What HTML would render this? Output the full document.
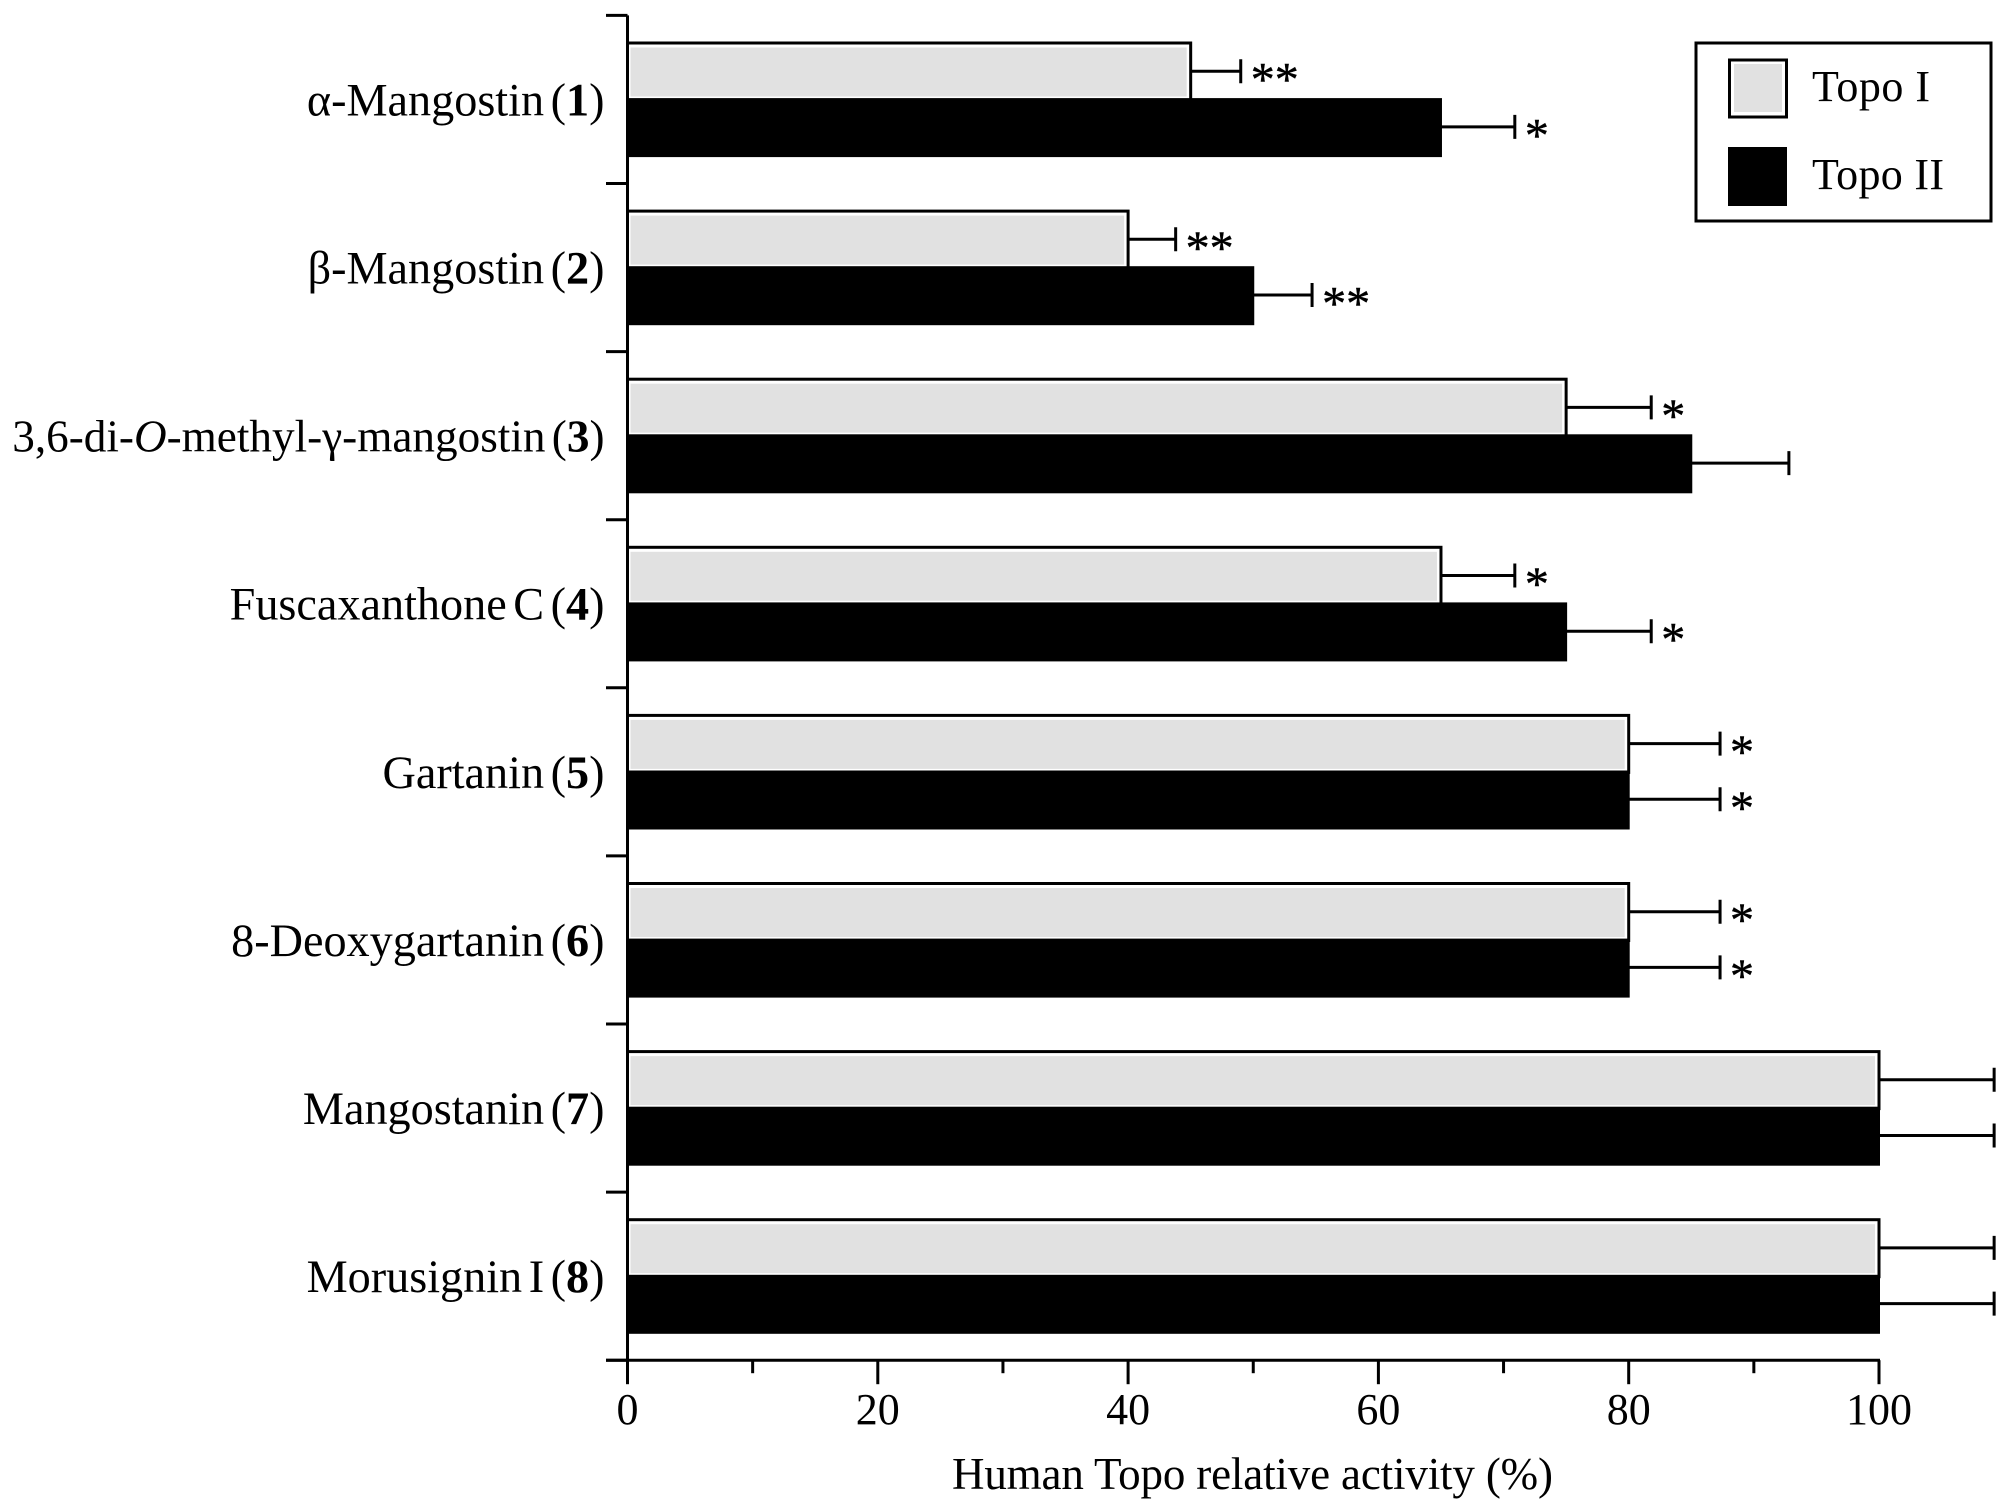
<!DOCTYPE html>
<html>
<head>
<meta charset="utf-8">
<title>Human Topo relative activity</title>
<style>
html,body{margin:0;padding:0;background:#fff;width:2008px;height:1511px;overflow:hidden}
svg{display:block}
text{font-family:"Liberation Serif",serif;fill:#000}
</style>
</head>
<body>
<svg id="chart" xmlns="http://www.w3.org/2000/svg" width="2008" height="1511" viewBox="0 0 2008 1511">
<rect width="2008" height="1511" fill="#fff"/>
<g id="plot"></g>
<g>
<rect x="1696" y="43" width="295" height="178" fill="#fff" stroke="#000" stroke-width="3"/>
<g>
<rect x="1729.5" y="60" width="57" height="57" fill="#fff" stroke="#000" stroke-width="3"/>
<rect x="1734" y="64" width="48" height="48" fill="#e1e1e1"/>
<text x="1812" y="101" font-size="44" textLength="118" lengthAdjust="spacing">Topo I</text>
</g>
<g>
<rect x="1728" y="147" width="59" height="59" fill="#000"/>
<text x="1812" y="189" font-size="44" textLength="132" lengthAdjust="spacing">Topo II</text>
</g>
</g>
</svg>
<script>
const categories = ["α-Mangostin","β-Mangostin","3,6-di-*O*-methyl-γ-mangostin","Fuscaxanthone C","Gartanin","8-Deoxygartanin","Mangostanin","Morusignin I"];
const compoundNumbers = ["1","2","3","4","5","6","7","8"];
const topoIValues = [45,40,75,65,80,80,100,100];
const topoIIValues = [65,50,85,75,80,80,100,100];
const topoIErrors = [4,3.8,6.8,5.9,7.3,7.3,9.2,9.2];
const topoIIErrors = [5.9,4.7,7.8,6.8,7.3,7.3,9.2,9.2];
const topoISignificance = ["**","**","*","*","*","*","",""];
const topoIISignificance = ["*","**","","*","*","*","",""];
const xTickValues = [0,10,20,30,40,50,60,70,80,90,100];
const xTickLabels = ["0","","20","","40","","60","","80","","100"];
const xAxisTitle = "Human Topo relative activity (%)";

const NS = "http://www.w3.org/2000/svg";
const plot = document.getElementById("plot");
function xScale(v){ return 627.5 + v * 12.515; }
const bandStep = 168.1;
const axisTop = 15.4;
function bandTop(i){ return axisTop + i * bandStep; }
function lightTop(i){ return bandTop(i) + 26.1; }
function darkTop(i){ return bandTop(i) + 82.7; }
const lightHeight = 57;
const darkHeight = 59;
function make(tag, attrs, parent){
  const el = document.createElementNS(NS, tag);
  for (const k in attrs) el.setAttribute(k, attrs[k]);
  (parent || plot).appendChild(el);
  return el;
}
function drawError(value, err, cy){
  const x0 = xScale(value), x1 = xScale(value + err);
  const g = make("path", {d:`M${x0} ${cy}H${x1}M${x1} ${cy-12}V${cy+12}`, fill:"none", stroke:"#000", "stroke-width":3});
  
  
}
function drawStar(value, err, cy, s){
  if (!s) return;
  const t = make("text", {x:xScale(value + err) + 10, y:cy + 24.5, "font-size":48, stroke:"#000", "stroke-width":0.5});
  t.textContent = s;
  
  
}
categories.forEach((cat, i) => {
  const ly = lightTop(i), dy = darkTop(i);
  const lx = xScale(topoIValues[i]), dx = xScale(topoIIValues[i]);
  const x0 = xScale(0);
  drawError(topoIValues[i], topoIErrors[i], ly + 29.7);
  drawError(topoIIValues[i], topoIIErrors[i], dy + 28.8);
  const outer = make("rect", {x:x0, y:ly + 1.5, width:lx - x0, height:lightHeight, fill:"#fff", stroke:"#000", "stroke-width":3});
  
  
  const fill = make("rect", {x:x0 + 3, y:ly + 6, width:lx - x0 - 7, height:lightHeight - 8, fill:"#e1e1e1"});
  
  
  const dark = make("rect", {x:x0, y:dy, width:dx - x0 + 1, height:darkHeight, fill:"#000"});
  
  
  drawStar(topoIValues[i], topoIErrors[i], ly + 29.7, topoISignificance[i]);
  drawStar(topoIIValues[i], topoIIErrors[i], dy + 28.8, topoIISignificance[i]);
  const label = make("text", {x:604.5, y:bandTop(i) + 100, "font-size":cat.length > 20 ? 45.2 : 46.2, "text-anchor":"end"});
  
  
  label.setAttribute('word-spacing', '-5');
  cat.split("*").forEach((part, j) => {
    const sp = make("tspan", j % 2 ? {"font-style":"italic"} : {}, label);
    sp.textContent = part;
  });
  const open = make("tspan", {}, label);
  open.textContent = " (";
  const num = make("tspan", {"font-weight":"bold"}, label);
  num.textContent = compoundNumbers[i];
  const close = make("tspan", {}, label);
  close.textContent = ")";
});
const yAxis = make("line", {x1:xScale(0), x2:xScale(0), y1:axisTop, y2:bandTop(8), stroke:"#000", "stroke-width":3});


categories.concat([""]).forEach((c, i) => {
  const t = make("line", {x1:606, x2:xScale(0), y1:bandTop(i), y2:bandTop(i), stroke:"#000", "stroke-width":3});
  
  
});
const xAxis = make("line", {x1:606, x2:xScale(100) + 1, y1:bandTop(8), y2:bandTop(8), stroke:"#000", "stroke-width":3});


xTickValues.forEach((v, i) => {
  const major = xTickLabels[i] !== "";
  const t = make("line", {x1:xScale(v), x2:xScale(v), y1:bandTop(8), y2:bandTop(8) + (major ? 24 : 13), stroke:"#000", "stroke-width":3});
  
  
  if (major) {
    const l = make("text", {x:xScale(v), y:1424, "font-size":44, "text-anchor":"middle"});
    l.textContent = xTickLabels[i];
    
    
  }
});
const title = make("text", {x:952, y:1489, "font-size":45, textLength:601, lengthAdjust:"spacing"});
title.textContent = xAxisTitle;


</script>
</body>
</html>
